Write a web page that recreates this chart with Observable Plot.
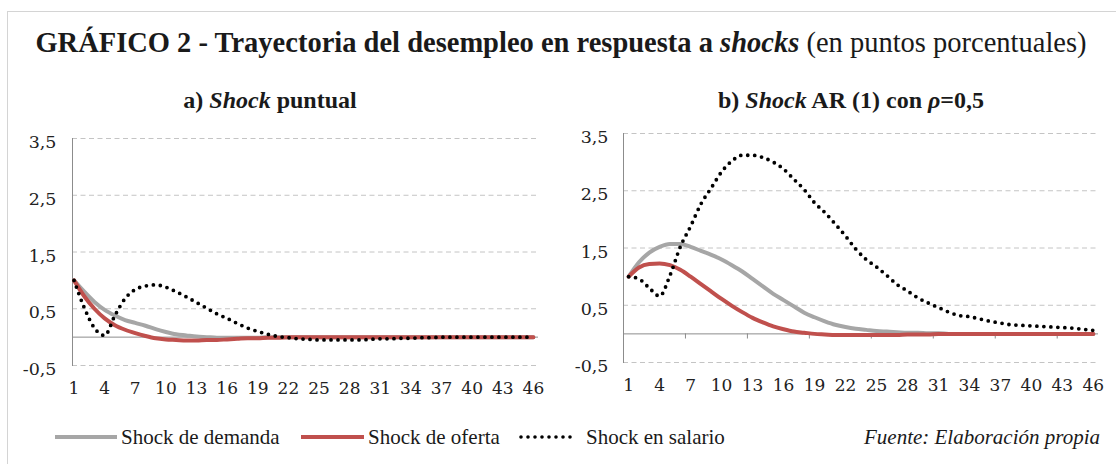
<!DOCTYPE html>
<html><head><meta charset="utf-8">
<script src="https://cdn.jsdelivr.net/npm/d3@7"></script>
<script src="https://cdn.jsdelivr.net/npm/@observablehq/plot@0.6"></script>
<style>
body{margin:0;background:#fff;}
#wrap{position:relative;width:1116px;height:464px;overflow:hidden;background:#fff;font-family:"Liberation Serif",serif;color:#1a1a1a;}
#frame{position:absolute;left:7px;top:11px;width:1300px;height:700px;border:1px solid #d4d4d4;}
.t{position:absolute;white-space:nowrap;line-height:1;}
#title{left:0;width:1122px;top:29px;text-align:center;font-size:28.5px;font-weight:bold;}
#title .n{font-weight:normal;}
.sub{top:88px;font-size:24px;font-weight:bold;text-align:center;}
#pa,#pb{position:absolute;}
.sw{position:absolute;height:4px;}
.lg{font-size:21px;top:427px;}
</style></head>
<body>
<div id="wrap">
  <div id="frame"></div>
  <div class="t" id="title">GRÁFICO 2 - Trayectoria del desempleo en respuesta a <i>shocks</i><span class="n"> (en puntos porcentuales)</span></div>
  <div class="t sub" style="left:120px;width:300px;">a) <i>Shock</i> puntual</div>
  <div class="t sub" style="left:701px;width:300px;">b) <i>Shock</i> AR (1) con <i>ρ</i>=0,5</div>
  <div id="pa"></div>
  <div id="pb"></div>
  <div class="sw" style="left:55px;top:435px;width:62px;background:#a6a6a6;"></div>
  <div class="t lg" style="left:121px;">Shock de demanda</div>
  <div class="sw" style="left:301px;top:435px;width:63px;background:#c0504d;"></div>
  <div class="t lg" style="left:368px;">Shock de oferta</div>
  <svg style="position:absolute;left:518px;top:431px;" width="60" height="12"><line x1="3" x2="57" y1="6" y2="6" stroke="#000" stroke-width="3.6" stroke-linecap="round" stroke-dasharray="0 7"/></svg>
  <div class="t lg" style="left:586px;">Shock en salario</div>
  <div class="t lg" style="left:800px;width:300px;text-align:right;font-style:italic;">Fuente: Elaboración propia</div>
</div>
<script>
const periods = [1,2,3,4,5,6,7,8,9,10,11,12,13,14,15,16,17,18,19,20,21,22,23,24,25,26,27,28,29,30,31,32,33,34,35,36,37,38,39,40,41,42,43,44,45,46];
const xTicks = [1,4,7,10,13,16,19,22,25,28,31,34,37,40,43,46];
const yTicks = [-0.5,0.5,1.5,2.5,3.5];
const tickMarksB = [6.5,12.5,18.5,24.5,30.5,36.5,42.5];

// a) Shock puntual
const demandaA = [1.0,0.80,0.62,0.48,0.38,0.30,0.25,0.20,0.14,0.09,0.05,0.03,0.01,0.0,-0.01,-0.01,-0.01,-0.01,-0.01,0,0,0,0,0,0,0,0,0,0,0,0,0,0,0,0,0,0,0,0,0,0,0,0,0,0,0];
const ofertaA  = [1.0,0.72,0.50,0.33,0.21,0.13,0.07,0.02,-0.02,-0.04,-0.05,-0.06,-0.06,-0.05,-0.05,-0.04,-0.03,-0.02,-0.02,-0.01,-0.01,0,0,0,0,0,0,0,0,0,0,0,0,0,0,0,0,0,0,0,0,0,0,0,0,0];
const salarioA = [1.0,0.52,0.16,0.03,0.38,0.68,0.84,0.90,0.92,0.88,0.80,0.71,0.61,0.51,0.41,0.33,0.24,0.16,0.10,0.05,0.01,-0.01,-0.03,-0.04,-0.05,-0.05,-0.05,-0.05,-0.05,-0.04,-0.03,-0.03,-0.02,-0.02,-0.01,-0.01,0,0,0,0,0,0,0,0,0,0];

// b) Shock AR(1) con rho = 0,5
const demandaB = [1.0,1.25,1.42,1.52,1.57,1.57,1.52,1.45,1.38,1.30,1.20,1.09,0.96,0.83,0.70,0.59,0.48,0.37,0.29,0.22,0.16,0.12,0.09,0.07,0.05,0.04,0.03,0.02,0.02,0.01,0.01,0,0,0,0,0,0,0,0,0,0,0,0,0,0,0];
const ofertaB  = [1.0,1.16,1.22,1.23,1.20,1.12,1.00,0.87,0.74,0.61,0.49,0.38,0.28,0.20,0.13,0.08,0.04,0.02,0.0,-0.01,-0.02,-0.02,-0.02,-0.02,-0.02,-0.02,-0.02,-0.01,-0.01,-0.01,0,0,0,0,0,0,0,0,0,0,0,0,0,0,0,0];
const salarioB = [1.0,0.96,0.80,0.66,1.02,1.52,1.88,2.27,2.55,2.83,3.02,3.12,3.12,3.08,3.00,2.88,2.70,2.52,2.29,2.12,1.92,1.71,1.48,1.30,1.17,1.02,0.86,0.75,0.63,0.54,0.46,0.38,0.32,0.30,0.26,0.22,0.19,0.16,0.15,0.14,0.13,0.12,0.11,0.10,0.08,0.06];

const fmt = d => String(d).replace(".", ",");
const mk = arr => periods.map((t, i) => ({t, v: arr[i]}));

function panel(dem, ofe, sal, o) {
  const marks = [
    Plot.ruleY(yTicks, {stroke: "#c4c4c4", strokeDasharray: "5 3.5"}),
    Plot.ruleY([0], {stroke: "#8c8c8c"}),
    Plot.frame({anchor: "left", stroke: "#8c8c8c"})
  ];
  if (o.tickMarks) marks.push(Plot.ruleX(o.tickMarks, {y1: 0, y2: -0.09, stroke: "#8c8c8c"}));
  marks.push(
    Plot.lineY(mk(dem), {x: "t", y: "v", stroke: "#a6a6a6", strokeWidth: 4, curve: "monotone-x"}),
    Plot.lineY(mk(ofe), {x: "t", y: "v", stroke: "#c0504d", strokeWidth: 4, curve: "monotone-x"}),
    Plot.lineY(mk(sal), {x: "t", y: "v", stroke: "#000", strokeWidth: 3.8, strokeDasharray: "0 7", strokeLinecap: "round", curve: "monotone-x"}),
    Plot.axisY({ticks: yTicks, tickFormat: fmt, tickSize: 0, tickPadding: o.padY, dy: 4, fill: "#222", label: null, fontSize: 17.5}),
    Plot.axisX({ticks: xTicks, tickFormat: d => String(d), tickSize: 0, tickPadding: 16, fill: "#222", label: null, fontSize: 17})
  );
  return Plot.plot({
    width: o.width, height: 290,
    marginLeft: o.ml, marginRight: o.mr, marginTop: 18, marginBottom: o.mb,
    x: {domain: o.xDomain},
    y: {domain: [-0.5, 3.5]},
    style: {fontFamily: "DejaVu Serif", background: "transparent", overflow: "visible"},
    marks
  });
}

const pa = document.getElementById("pa");
pa.style.left = "0px"; pa.style.top = "120px";
pa.appendChild(panel(demandaA, ofertaA, salarioA, {width: 556, ml: 72, mr: 18, mb: 45, xDomain: [0.85, 46.5], padY: 16}));

const pb = document.getElementById("pb");
pb.style.left = "556px"; pb.style.top = "115px";
pb.appendChild(panel(demandaB, ofertaB, salarioB, {width: 560, ml: 67, mr: 18, mb: 43, xDomain: [0.5, 46.5], padY: 15, tickMarks: tickMarksB}));
</script>
</body></html>
